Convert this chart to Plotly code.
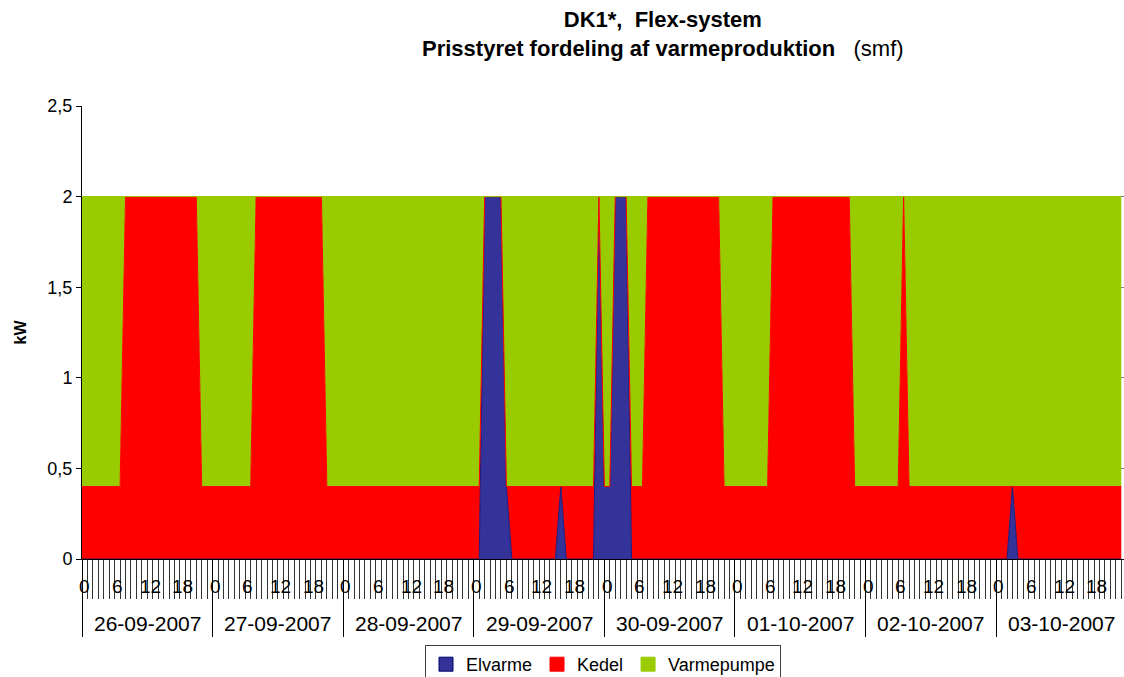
import plotly.graph_objects as go

# hourly index for 8 days (26-09-2007 .. 03-10-2007)
hours = list(range(192))

day_labels = ["26-09-2007", "27-09-2007", "28-09-2007", "29-09-2007",
              "30-09-2007", "01-10-2007", "02-10-2007", "03-10-2007"]
hour_labels = ["0", "6", "12", "18"]
y_ticks = [0, 0.5, 1, 1.5, 2, 2.5]
y_ticktext = ["0", "0,5", "1", "1,5", "2", "2,5"]

# kW per hour, one row per day
elvarme = (
    [0, 0, 0, 0, 0, 0, 0, 0, 0, 0, 0, 0, 0, 0, 0, 0, 0, 0, 0, 0, 0, 0, 0, 0] +
    [0, 0, 0, 0, 0, 0, 0, 0, 0, 0, 0, 0, 0, 0, 0, 0, 0, 0, 0, 0, 0, 0, 0, 0] +
    [0, 0, 0, 0, 0, 0, 0, 0, 0, 0, 0, 0, 0, 0, 0, 0, 0, 0, 0, 0, 0, 0, 0, 0] +
    [0, 0, 2, 2, 2, 2, 0.4, 0, 0, 0, 0, 0, 0, 0, 0, 0, 0.4, 0, 0, 0, 0, 0, 0, 2] +
    [0.4, 0.4, 2, 2, 2, 0, 0, 0, 0, 0, 0, 0, 0, 0, 0, 0, 0, 0, 0, 0, 0, 0, 0, 0] +
    [0, 0, 0, 0, 0, 0, 0, 0, 0, 0, 0, 0, 0, 0, 0, 0, 0, 0, 0, 0, 0, 0, 0, 0] +
    [0, 0, 0, 0, 0, 0, 0, 0, 0, 0, 0, 0, 0, 0, 0, 0, 0, 0, 0, 0, 0, 0, 0, 0] +
    [0, 0, 0, 0.4, 0, 0, 0, 0, 0, 0, 0, 0, 0, 0, 0, 0, 0, 0, 0, 0, 0, 0, 0, 0]
)
kedel = (
    [0.4, 0.4, 0.4, 0.4, 0.4, 0.4, 0.4, 0.4, 2, 2, 2, 2, 2, 2, 2, 2, 2, 2, 2, 2, 2, 2, 0.4, 0.4] +
    [0.4, 0.4, 0.4, 0.4, 0.4, 0.4, 0.4, 0.4, 2, 2, 2, 2, 2, 2, 2, 2, 2, 2, 2, 2, 2, 0.4, 0.4, 0.4] +
    [0.4, 0.4, 0.4, 0.4, 0.4, 0.4, 0.4, 0.4, 0.4, 0.4, 0.4, 0.4, 0.4, 0.4, 0.4, 0.4, 0.4, 0.4, 0.4, 0.4, 0.4, 0.4, 0.4, 0.4] +
    [0.4, 0.4, 0, 0, 0, 0, 0, 0.4, 0.4, 0.4, 0.4, 0.4, 0.4, 0.4, 0.4, 0.4, 0, 0.4, 0.4, 0.4, 0.4, 0.4, 0.4, 0] +
    [0, 0, 0, 0, 0, 0.4, 0.4, 0.4, 2, 2, 2, 2, 2, 2, 2, 2, 2, 2, 2, 2, 2, 2, 0.4, 0.4] +
    [0.4, 0.4, 0.4, 0.4, 0.4, 0.4, 0.4, 2, 2, 2, 2, 2, 2, 2, 2, 2, 2, 2, 2, 2, 2, 2, 0.4, 0.4] +
    [0.4, 0.4, 0.4, 0.4, 0.4, 0.4, 0.4, 2, 0.4, 0.4, 0.4, 0.4, 0.4, 0.4, 0.4, 0.4, 0.4, 0.4, 0.4, 0.4, 0.4, 0.4, 0.4, 0.4] +
    [0.4, 0.4, 0.4, 0, 0.4, 0.4, 0.4, 0.4, 0.4, 0.4, 0.4, 0.4, 0.4, 0.4, 0.4, 0.4, 0.4, 0.4, 0.4, 0.4, 0.4, 0.4, 0.4, 0.4]
)
varmepumpe = (
    [1.6, 1.6, 1.6, 1.6, 1.6, 1.6, 1.6, 1.6, 0, 0, 0, 0, 0, 0, 0, 0, 0, 0, 0, 0, 0, 0, 1.6, 1.6] +
    [1.6, 1.6, 1.6, 1.6, 1.6, 1.6, 1.6, 1.6, 0, 0, 0, 0, 0, 0, 0, 0, 0, 0, 0, 0, 0, 1.6, 1.6, 1.6] +
    [1.6, 1.6, 1.6, 1.6, 1.6, 1.6, 1.6, 1.6, 1.6, 1.6, 1.6, 1.6, 1.6, 1.6, 1.6, 1.6, 1.6, 1.6, 1.6, 1.6, 1.6, 1.6, 1.6, 1.6] +
    [1.6, 1.6, 0, 0, 0, 0, 1.6, 1.6, 1.6, 1.6, 1.6, 1.6, 1.6, 1.6, 1.6, 1.6, 1.6, 1.6, 1.6, 1.6, 1.6, 1.6, 1.6, 0] +
    [1.6, 1.6, 0, 0, 0, 1.6, 1.6, 1.6, 0, 0, 0, 0, 0, 0, 0, 0, 0, 0, 0, 0, 0, 0, 1.6, 1.6] +
    [1.6, 1.6, 1.6, 1.6, 1.6, 1.6, 1.6, 0, 0, 0, 0, 0, 0, 0, 0, 0, 0, 0, 0, 0, 0, 0, 1.6, 1.6] +
    [1.6, 1.6, 1.6, 1.6, 1.6, 1.6, 1.6, 0, 1.6, 1.6, 1.6, 1.6, 1.6, 1.6, 1.6, 1.6, 1.6, 1.6, 1.6, 1.6, 1.6, 1.6, 1.6, 1.6] +
    [1.6, 1.6, 1.6, 1.6, 1.6, 1.6, 1.6, 1.6, 1.6, 1.6, 1.6, 1.6, 1.6, 1.6, 1.6, 1.6, 1.6, 1.6, 1.6, 1.6, 1.6, 1.6, 1.6, 1.6]
)

FONT = "Liberation Sans, Arial, sans-serif"

# plot-area geometry in pixels
W, H = 1124, 677
L, R, T, B = 82, 0, 106, 118
ph = H - T - B


def py(pix):
    """pixel row -> paper y"""
    return (H - B - pix) / ph


fig = go.Figure()
series = [
    ("Elvarme", elvarme, "#333399", "#1a1a80"),
    ("Kedel", kedel, "#FF0000", "#FF0000"),
    ("Varmepumpe", varmepumpe, "#99CC00", "#99CC00"),
]
for name, vals, fc, lc in series:
    fig.add_trace(go.Scatter(
        x=hours, y=vals, name=name, mode="lines", stackgroup="one",
        line=dict(color=lc, width=1), fillcolor=fc, showlegend=False,
    ))
# legend-only entries drawn as squares, as in the original legend
for name, vals, fc, lc in series:
    fig.add_trace(go.Scatter(
        x=[None], y=[None], name=name, mode="markers",
        marker=dict(symbol="square", size=14, color=fc,
                    line=dict(color="#000066" if name == "Elvarme" else fc, width=1)),
        showlegend=True, hoverinfo="skip",
    ))

annotations = []
for d, lab in enumerate(day_labels):
    for hl in hour_labels:
        annotations.append(dict(
            x=d * 24 + int(hl) + 0.5, y=py(586), xref="x", yref="paper",
            text=hl, showarrow=False, xanchor="center", yanchor="middle",
            font=dict(family=FONT, size=19, color="#000"),
        ))
    annotations.append(dict(
        x=d * 24 + 12, y=py(623.5), xref="x", yref="paper",
        text=lab, showarrow=False, xanchor="center", yanchor="middle",
        font=dict(family=FONT, size=21, color="#000"),
    ))

annotations.append(dict(
    x=(663 - L) / (W - L - R), y=py(34), xref="paper", yref="paper",
    text="<b>DK1*,\u00a0\u00a0Flex-system</b><br><b>Prisstyret fordeling af varmeproduktion</b>\u00a0\u00a0\u00a0(smf)",
    showarrow=False, xanchor="center", yanchor="middle", align="center",
    font=dict(family=FONT, size=22, color="#000"),
))

fig.update_layout(
    width=W, height=H,
    margin=dict(l=L, r=R, t=T, b=B, pad=0, autoexpand=False),
    paper_bgcolor="white", plot_bgcolor="white",
    font=dict(family=FONT, size=17, color="#000"),
    showlegend=True,
    legend=dict(
        orientation="h", x=(603 - L) / (W - L - R), xanchor="center",
        y=py(645), yanchor="top", traceorder="normal",
        bordercolor="#404040", borderwidth=1, bgcolor="white",
        font=dict(family=FONT, size=18), itemwidth=30,
        tracegroupgap=0, valign="middle",
    ),
    annotations=annotations,
    xaxis=dict(
        range=[0, 191.5], showgrid=False, zeroline=False, automargin=False,
        showline=True, linecolor="#000", linewidth=1,
        tickmode="array", tickvals=[d * 24 for d in range(8)],
        ticks="outside", ticklen=77, tickcolor="#000", tickwidth=1,
        showticklabels=False,
        minor=dict(tickmode="array", tickvals=hours, ticks="outside",
                   ticklen=39, tickcolor="#333", tickwidth=1, showgrid=False),
    ),
    yaxis=dict(
        range=[0, 2.5], tickmode="array", tickvals=y_ticks, ticktext=y_ticktext,
        showgrid=True, gridcolor="#808080", gridwidth=1, zeroline=False,
        showline=True, linecolor="#000", linewidth=1, automargin=False,
        ticks="outside", ticklen=5, tickcolor="#000",
        tickfont=dict(family=FONT, size=18),
        title=dict(text="<b>kW</b>", font=dict(family=FONT, size=16), standoff=16),
    ),
)

fig.write_html("out.html", config={"displayModeBar": False},
               post_script="document.body.style.margin='0';")
